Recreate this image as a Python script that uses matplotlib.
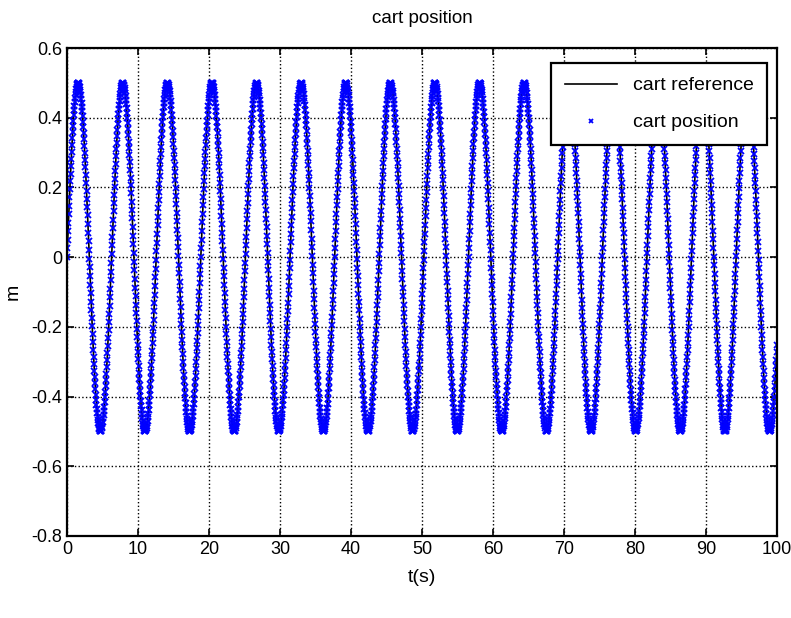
import numpy as np
import matplotlib
matplotlib.use('Agg')
import matplotlib.pyplot as plt

# valores: senoide de amplitude 0.5 e período ~6.28 s
amplitude = 0.5
periodo = 6.283
t_final = 100.0
passo = 0.05

t = np.arange(0, t_final + passo / 2, passo)
referencia = amplitude * np.sin(2 * np.pi * t / periodo)
posicao = referencia.copy()

xticks = [0, 10, 20, 30, 40, 50, 60, 70, 80, 90, 100]
yticks = [-0.8, -0.6, -0.4, -0.2, 0, 0.2, 0.4, 0.6]
ytick_labels = ['-0.8', '-0.6', '-0.4', '-0.2', '0', '0.2', '0.4', '0.6']

plt.rcParams['font.family'] = ['Liberation Sans', 'DejaVu Sans']

fig = plt.figure(figsize=(7.91, 6.18), dpi=100)
ax = fig.add_axes([0.0847, 0.1327, 0.8976, 0.7896])

ax.plot(t, referencia, color='black', linewidth=1.2, label='cart reference')
ax.plot(t, posicao, linestyle='none', marker='x', markersize=4.2,
        markeredgewidth=1.3, color='#0000ff', label='cart position')

ax.set_xlim(0, 100)
ax.set_ylim(-0.8, 0.6)
ax.set_xticks(xticks)
ax.set_yticks(yticks)
ax.set_yticklabels(ytick_labels)
ax.tick_params(direction='in', top=True, right=True, labelsize=13, length=5, width=1.2)
ax.grid(True, color='black', linestyle=':', linewidth=1.0)
for s in ax.spines.values():
    s.set_linewidth(1.6)

ax.set_title('cart position', fontsize=13.5, pad=18)
ax.set_xlabel('t(s)', fontsize=14, labelpad=8)
ax.set_ylabel('m', fontsize=14)
ax.yaxis.set_label_coords(-0.064, 0.5)

leg = ax.legend(loc='upper right', bbox_to_anchor=(0.986, 0.969), borderaxespad=0,
                fontsize=14, frameon=True, fancybox=False, edgecolor='black',
                framealpha=1, labelspacing=1.0, borderpad=0.7,
                handlelength=2.7, markerscale=0.8)
leg.get_frame().set_linewidth(1.6)

fig.savefig('out.png', dpi=100)
